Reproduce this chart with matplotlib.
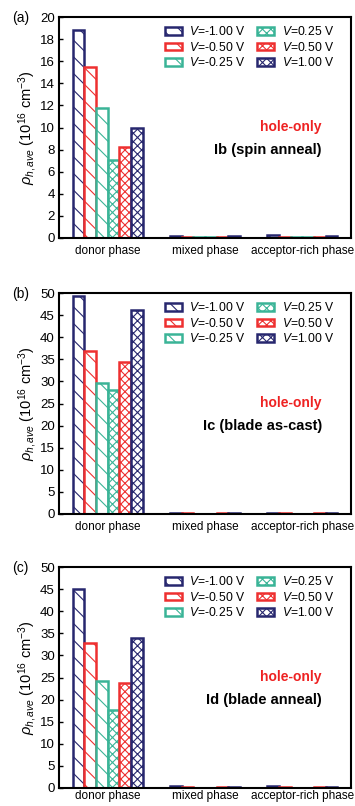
import matplotlib
matplotlib.use("Agg")
import matplotlib.pyplot as plt
import numpy as np

plt.rcParams['font.family'] = ['Liberation Sans', 'DejaVu Sans']
plt.rcParams['hatch.linewidth'] = 0.8
plt.rcParams['mathtext.fontset'] = 'custom'
plt.rcParams['mathtext.rm'] = 'Liberation Sans'
plt.rcParams['mathtext.it'] = 'Liberation Sans:italic'
plt.rcParams['mathtext.bf'] = 'Liberation Sans:bold'

categories = ["donor phase", "mixed phase", "acceptor-rich phase"]
voltages = ["-1.00", "-0.50", "-0.25", "0.25", "0.50", "1.00"]

# values per panel, per voltage: [donor, mixed, acceptor-rich]
a_vals = [[18.8, 0.22, 0.25], [15.5, 0.12, 0.12], [11.8, 0.05, 0.05],
          [7.1, 0.05, 0.05], [8.2, 0.10, 0.10], [10.0, 0.18, 0.22]]
b_vals = [[49.3, 0.30, 0.30], [36.8, 0.15, 0.15], [29.6, 0.08, 0.08],
          [28.0, 0.08, 0.08], [34.5, 0.15, 0.15], [46.2, 0.25, 0.28]]
c_vals = [[45.0, 0.35, 0.35], [32.8, 0.15, 0.15], [24.1, 0.08, 0.08],
          [17.7, 0.08, 0.08], [23.8, 0.15, 0.15], [33.9, 0.28, 0.30]]

panel_labels = ["(a)", "(b)", "(c)"]
sample_labels = ["Ib (spin anneal)", "Ic (blade as-cast)", "Id (blade anneal)"]
ymaxes = [20, 50, 50]
ysteps = [2, 5, 5]

colors = ["#27276e", "#ee3030", "#3ab497", "#3ab497", "#ee3030", "#27276e"]
hatches = ["\\\\", "\\\\", "\\\\", "xxxx", "xxxx", "xxxx"]

fig = plt.figure(figsize=(3.55, 8.06), dpi=100)
W, H = 355, 806
axes_px = [(59, 17, 238), (59, 293, 514), (59, 567, 788)]
xpads = [5, 5, 1.5]
right_px = 351

for i, data in enumerate([a_vals, b_vals, c_vals]):
    left, top, bottom = axes_px[i]
    ax = fig.add_axes([left / W, 1 - bottom / H, (right_px - left) / W, (bottom - top) / H])
    x = np.arange(len(categories))
    bw = 0.12
    for j, v in enumerate(voltages):
        ax.bar(x - 2.5 * bw + j * bw, data[j], width=bw, facecolor="white",
               edgecolor=colors[j], hatch=hatches[j], linewidth=1.8,
               label=f"$V$={v} V")
    ax.set_xlim(-0.5, 2.5)
    ax.set_ylim(0, ymaxes[i])
    ax.set_yticks(np.arange(0, ymaxes[i] + 0.1, ysteps[i]))
    ax.set_xticks(x)
    ax.set_xticklabels(categories, fontsize=8.5)
    ax.tick_params(axis='x', length=0, pad=xpads[i])
    ax.tick_params(axis='y', direction='in', length=3, labelsize=9.5, width=1, pad=3)
    for s in ax.spines.values():
        s.set_linewidth(1.5)
    ax.set_ylabel(r"$\rho_{h,ave}$ (10$^{16}$ cm$^{-3}$)", fontsize=10.5, labelpad=1)
    ax.legend(ncol=2, loc="upper right", frameon=False, fontsize=8.7,
              handlelength=1.4, handleheight=0.6, columnspacing=1.0,
              labelspacing=0.2, handletextpad=0.6, borderaxespad=0.3,
              bbox_to_anchor=(0.97, 1.0))
    ax.text(0.90, 0.50, "hole-only", color="#ee2222", fontweight="bold",
            fontsize=10, ha="right", va="center", transform=ax.transAxes)
    ax.text(0.90, 0.40, sample_labels[i], color="black", fontweight="bold",
            fontsize=10.5, ha="right", va="center", transform=ax.transAxes)
    fig.text(12 / W, 1 - (top + 1) / H, panel_labels[i], fontsize=10, ha="left", va="center")

fig.savefig("out.png", dpi=100)
